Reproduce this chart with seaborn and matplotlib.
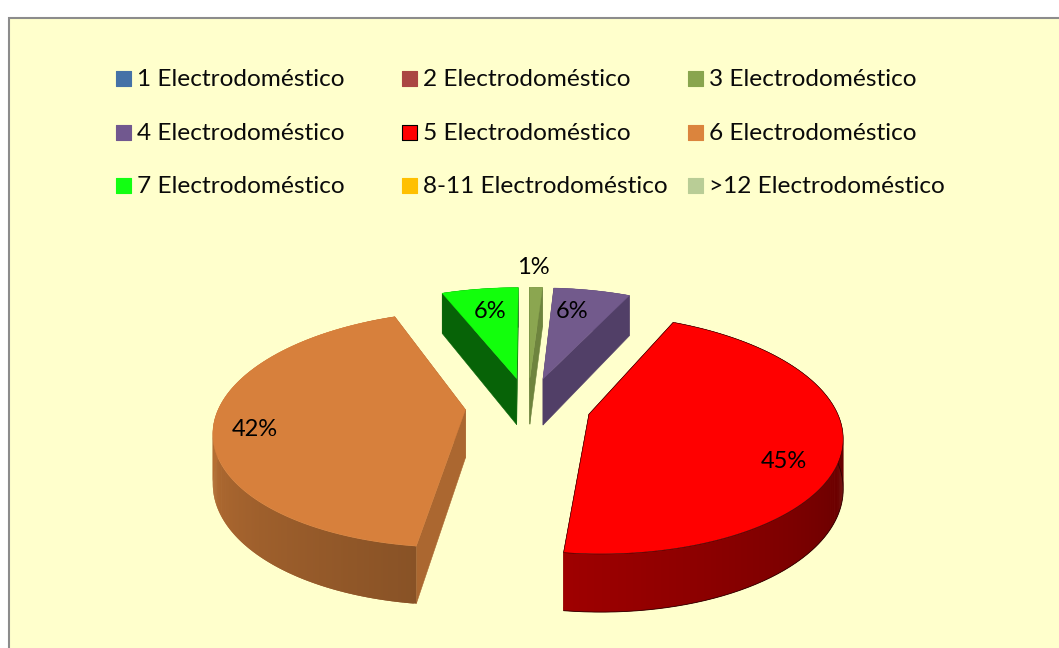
import matplotlib
matplotlib.use("Agg")
import matplotlib.pyplot as plt
import numpy as np
import seaborn as sns

labels = ["1 Electrodoméstico", "2 Electrodoméstico", "3 Electrodoméstico",
          "4 Electrodoméstico", "5 Electrodoméstico", "6 Electrodoméstico",
          "7 Electrodoméstico", "8-11 Electrodoméstico", ">12 Electrodoméstico"]
values = [0, 0, 1, 6, 45, 42, 6, 0, 0]
colors = ["#4572A7", "#AA4643", "#89A54E", "#71588F", "#FF0000",
          "#DB843D", "#12FF12", "#FFC000", "#B9CD96"]
top_colors = ["#4572A7", "#AA4643", "#8BA650", "#725A8C", "#FF0000",
              "#D7803C", "#12FF0C", "#FFC000", "#B9CD96"]

# pixel layout of the chart, y goes down
CX, CY = 528, 406
RADIUS = 246
TILT = 114
PERSP = 0.163
DEPTH = 48
EXPLODE = 0.255
label_pos = {2: (533, 265), 3: (572, 310), 4: (784, 459), 5: (255, 427), 6: (490, 310)}
face_shade = {2: 0.8, 3: 0.72, 4: 0.5, 5: 0.78, 6: 0.39}


def project(u, v, low=0.0):
    # flat pie coordinates to screen, low=1 is the bottom of the pie
    s = 1 / (1 - PERSP * v)
    return CX + RADIUS * u * s, CY + TILT * v * s + DEPTH * low * s


def darker(color, k):
    return tuple(c * k for c in matplotlib.colors.to_rgb(color))


def draw_slice(ax, start, end, color, top_color, cut_k, outline):
    mid = np.radians((start + end) / 2)
    ou, ov = EXPLODE * np.sin(mid), -EXPLODE * np.cos(mid)
    angles = np.linspace(start, end, max(int(end - start) * 2, 4))
    u = ou + np.sin(np.radians(angles))
    v = ov - np.cos(np.radians(angles))

    # the two cut faces
    for i in (0, -1):
        x0, y0 = project(ou, ov)
        x1, y1 = project(u[i], v[i])
        x2, y2 = project(u[i], v[i], 1)
        x3, y3 = project(ou, ov, 1)
        ax.fill([x0, x1, x2, x3], [y0, y1, y2, y3], color=darker(color, cut_k), lw=0.4, zorder=2)

    # outer wall, small shaded pieces that overlap the next one to hide seams
    for i in range(len(angles) - 1):
        k = np.clip(0.36 + 0.0027 * ((angles[i] + angles[i + 1]) / 2 - 90), 0.3, 0.95)
        if angles[i] < 40 or angles[i] > 330:
            k = cut_k
        ua, va = u[i:i + 3], v[i:i + 3]
        xa, ya = project(ua, va)
        xb, yb = project(ua[::-1], va[::-1], 1)
        ax.fill(np.r_[xa, xb], np.r_[ya, yb], facecolor=darker(color, k), edgecolor="none", lw=0, zorder=3)

    if outline:
        xb, yb = project(u, v, 1)
        ax.plot(xb, yb, color="#300000", lw=0.6, zorder=3)

    xt, yt = project(np.r_[ou, u], np.r_[ov, v])
    ax.fill(xt, yt, facecolor=top_color, edgecolor="#300000" if outline else top_color,
            lw=0.4 if outline else 0.3, zorder=4)


sns.set_theme(style="white")
plt.rcParams["font.family"] = ["Lato", "DejaVu Sans"]

fig = plt.figure(figsize=(10.59, 6.48), dpi=100, facecolor="white")
ax = fig.add_axes([0, 0, 1, 1])
ax.add_patch(plt.Rectangle((8.5, 17.5), 1080, 660, facecolor="#FFFFCC", edgecolor="#8C8C8C", lw=1.5, zorder=0))

# legend in three columns
col_x = [123.5, 409.5, 695.5]
row_y = [78.5, 132.5, 185.5]
swatch_x = [col_x[i % 3] for i in range(len(labels))]
swatch_y = [row_y[i // 3] for i in range(len(labels))]
edges = ["black" if c == "#FF0000" else c for c in colors]
sns.scatterplot(x=swatch_x, y=swatch_y, hue=labels, hue_order=labels, palette=colors,
                marker="s", s=105, edgecolor=edges, linewidth=0.8, legend=False, ax=ax, zorder=5)
for name, x, y in zip(labels, swatch_x, swatch_y):
    ax.text(x + 13.5, y + 1, name, fontsize=17.55, color="#0A0A0A", va="center", ha="left", zorder=6)

# pie, clockwise from twelve o'clock
angle = 0.0
for i, val in enumerate(values):
    if val == 0:
        continue
    sweep = 360.0 * val / sum(values)
    draw_slice(ax, angle, angle + sweep, colors[i], top_colors[i], face_shade[i], colors[i] == "#FF0000")
    angle += sweep
    x, y = label_pos[i]
    ax.text(x, y + 2, f"{val}%", fontsize=17, color="black", ha="center", va="center", zorder=7)

ax.set_xlim(0, 1059)
ax.set_ylim(648, 0)
ax.axis("off")
fig.savefig("out.png", dpi=100, facecolor="white")
